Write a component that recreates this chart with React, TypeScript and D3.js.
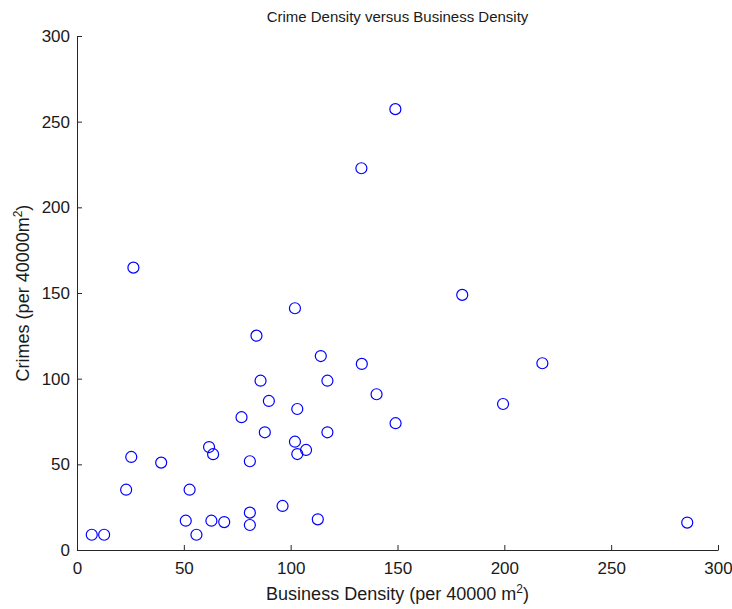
import { useRef, useEffect } from "react"
import * as d3 from "d3"

// business density (per 40000 m^2)
const business = [
  102, 84, 114.1, 133.3, 85.9, 117.2, 89.8, 103.1, 77, 87.9,
  117.2, 102, 61.8, 107.2, 63.7, 103.1, 25.4, 39.4, 80.9, 23,
  52.7, 96.2, 80.9, 50.9, 62.9, 68.9, 112.7, 80.9, 6.9, 12.7,
  55.9, 149, 133.1, 26.4, 180.3, 217.8, 140.2, 199.4, 149.1, 285.6,
]
// crimes (per 40000 m^2)
const crimes = [
  141.1, 125.1, 113.2, 108.6, 98.8, 98.8, 87, 82.3, 77.5, 68.7,
  68.7, 63.2, 60.1, 58.4, 55.9, 56, 54.3, 51, 51.8, 35.2,
  35.2, 25.7, 21.8, 17.1, 17.1, 16.3, 17.9, 14.6, 8.9, 8.9,
  8.9, 257.3, 222.8, 164.8, 148.9, 109, 90.9, 85.2, 74, 16,
]
const xTicks = [0, 50, 100, 150, 200, 250, 300]
const yTicks = [0, 50, 100, 150, 200, 250, 300]

export default function App() {
  const svgRef = useRef<SVGSVGElement>(null)
  useEffect(() => {
    const width = 732
    const height = 609
    const margin = { top: 36, left: 77, bottom: 59, right: 14 }
    const innerWidth = width - margin.left - margin.right
    const innerHeight = height - margin.top - margin.bottom
    const font = "'Liberation Sans', Arial, Helvetica, sans-serif"

    const svg = d3.select(svgRef.current)
    svg.selectAll("*").remove()
    svg.attr("width", width).attr("height", height)

    svg.append("rect").attr("width", width).attr("height", height).attr("fill", "#fff")

    const x = d3.scaleLinear().domain([0, 300]).range([0, innerWidth])
    const y = d3.scaleLinear().domain([0, 300]).range([innerHeight, 0])

    const g = svg.append("g").attr("transform", `translate(${margin.left},${margin.top})`)

    const xAxis = d3.axisBottom(x).tickValues(xTicks).tickSize(-5).tickPadding(12).tickSizeOuter(0)
    const yAxis = d3.axisLeft(y).tickValues(yTicks).tickSize(-5).tickPadding(7).tickSizeOuter(0)

    const gx = g.append("g").attr("transform", `translate(0,${innerHeight})`).call(xAxis)
    const gy = g.append("g").call(yAxis)
    for (const a of [gx, gy]) {
      a.select(".domain").attr("stroke", "#262626")
      a.selectAll(".tick line").attr("stroke", "#262626")
      a.selectAll(".tick text")
        .attr("fill", "#1a1a1a")
        .style("font-family", font)
        .style("font-size", "17px")
    }

    const pts = business.map((b, i) => ({ b, c: crimes[i] }))
    g.selectAll("circle.pt")
      .data(pts)
      .enter()
      .append("circle")
      .attr("class", "pt")
      .attr("cx", d => x(d.b))
      .attr("cy", d => y(d.c))
      .attr("r", 5.5)
      .attr("fill", "none")
      .attr("stroke", "#0000ff")
      .attr("stroke-width", 1.2)

    svg.append("text")
      .attr("x", margin.left + innerWidth / 2)
      .attr("y", 22)
      .attr("text-anchor", "middle")
      .style("font-family", font)
      .style("font-size", "15px")
      .attr("fill", "#1a1a1a")
      .text("Crime Density versus Business Density")

    const xl = svg.append("text")
      .attr("x", margin.left + innerWidth / 2)
      .attr("y", height - 9)
      .attr("text-anchor", "middle")
      .style("font-family", font)
      .style("font-size", "18px")
      .attr("fill", "#1a1a1a")
    xl.append("tspan").text("Business Density (per 40000 m")
    xl.append("tspan").attr("dy", -7).style("font-size", "12px").text("2")
    xl.append("tspan").attr("dy", 7).text(")")

    const yl = svg.append("text")
      .attr("transform", `translate(29,${margin.top + innerHeight / 2}) rotate(-90)`)
      .attr("text-anchor", "middle")
      .style("font-family", font)
      .style("font-size", "18px")
      .attr("fill", "#1a1a1a")
    yl.append("tspan").text("Crimes (per 40000m")
    yl.append("tspan").attr("dy", -7).style("font-size", "12px").text("2")
    yl.append("tspan").attr("dy", 7).text(")")
  }, [])

  return (
    <svg ref={svgRef} style={{ position: "absolute", left: 0, top: 0, display: "block" }}></svg>
  )
}
